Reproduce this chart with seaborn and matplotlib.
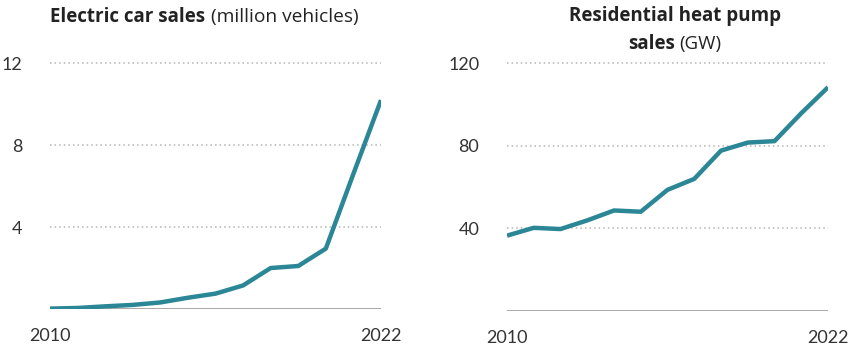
import matplotlib
matplotlib.use("Agg")
import matplotlib.pyplot as plt
import seaborn as sns
import pandas as pd

years = list(range(2010, 2023))
ev_sales = [0.02, 0.05, 0.13, 0.2, 0.32, 0.55, 0.75, 1.15, 2.0, 2.1, 2.95, 6.6, 10.2]
hp_sales = [36.5, 40.3, 39.7, 43.9, 48.7, 48.1, 58.7, 64.0, 77.7, 81.6, 82.3, 95.8, 108.4]
ev_ticks = [4, 8, 12]
hp_ticks = [40, 80, 120]
xtick_labels = ["2010", "2022"]

sns.set_theme(style="white")
plt.rcParams['font.family'] = ['Lato', 'DejaVu Sans']

line_color = "#2B8796"
grid_color = "#b5b5b5"
text_color = "#333333"

fig = plt.figure(figsize=(8.53, 3.45), dpi=100)
W, H = 853, 345

def make_ax(x0, x1, ybot, ytop):
    return fig.add_axes([x0 / W, 1 - ybot / H, (x1 - x0) / W, (ybot - ytop) / H])

ax1 = make_ax(50, 381, 309, 53)
ax2 = make_ax(507, 828, 311, 53)

df = pd.DataFrame({"year": years, "ev": ev_sales, "hp": hp_sales})

def style(ax, ticks, ymax, ycol):
    sns.lineplot(data=df, x="year", y=ycol, ax=ax, color=line_color, linewidth=3.2,
                 solid_capstyle="butt", solid_joinstyle="round", zorder=3)
    ax.set_xlim(2010, 2022)
    ax.set_ylim(0, ymax)
    for t in ticks:
        ax.axhline(t, color=grid_color, linestyle=(0, (1, 2)), linewidth=1.1, zorder=1)
    ax.axhline(0, color="#9a9a9a", linewidth=1.2, zorder=2)
    for s in ax.spines.values():
        s.set_visible(False)
    ax.set_yticks(ticks)
    ax.set_yticklabels([str(t) for t in ticks])
    ax.set_xticks([2010, 2022])
    ax.set_xticklabels(xtick_labels)
    ax.tick_params(axis="y", length=0, pad=20, labelsize=13, labelcolor=text_color)
    ax.tick_params(axis="x", length=0, pad=14, labelsize=13, labelcolor=text_color)
    ax.set_xlabel("")
    ax.set_ylabel("")
    ax.grid(False)
    ax.set_facecolor("none")

style(ax1, ev_ticks, 12.5, "ev")
style(ax2, hp_ticks, 125, "hp")

tfont = ['Open Sans', 'DejaVu Sans']
tcol = "#222222"

# Titles
t1 = fig.text(50 / W, 1 - 17 / H, "Electric car sales", fontsize=13.5, fontweight="bold",
              family=tfont, color=tcol, ha="left", va="center")
fig.canvas.draw()
bb = t1.get_window_extent()
fig.text(bb.x1 / W + 0.007, 1 - 17 / H, "(million vehicles)", fontsize=13.8,
         family=tfont, color=tcol, ha="left", va="center")

fig.text(675 / W, 1 - 16 / H, "Residential heat pump", fontsize=13.5, fontweight="bold",
         family=tfont, color=tcol, ha="center", va="center")
fig.text(675 / W, 1 - 44 / H, "sales", fontsize=13.5, fontweight="bold",
         family=tfont, color=tcol, ha="right", va="center")
fig.text(675 / W + 0.005, 1 - 44 / H, "(GW)", fontsize=13.5,
         family=tfont, color=tcol, ha="left", va="center")

fig.savefig("out.png", dpi=100, facecolor="white")
